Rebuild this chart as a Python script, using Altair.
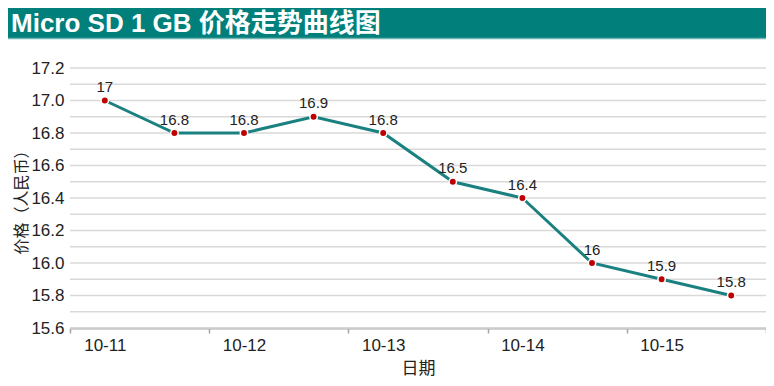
import altair as alt
import pandas as pd

title_text = "Micro SD 1 GB 价格走势曲线图"
dates = ["10-11", "10-12", "10-13", "10-14", "10-15"]
prices = [17.0, 16.8, 16.8, 16.9, 16.8, 16.5, 16.4, 16.0, 15.9, 15.8]
y_labels = [15.6, 15.8, 16.0, 16.2, 16.4, 16.6, 16.8, 17.0, 17.2]
y_grid = [15.6, 15.7, 15.8, 15.9, 16.0, 16.1, 16.2, 16.3, 16.4, 16.5,
          16.6, 16.7, 16.8, 16.9, 17.0, 17.1, 17.2]
x_ticks = [-0.5, 1.5, 3.5, 5.5, 7.5, 9.5]

W, H = 696, 260
PAD_L, PAD_T, PAD_B = 62, 60, 50
LATIN = "Liberation Sans, Arial, Noto Sans CJK SC"

df = pd.DataFrame({"idx": list(range(len(prices))), "price": prices})
grid_df = pd.DataFrame({"price": y_grid})
hdr = pd.DataFrame({"t": [title_text]})

date_arr = "[" + ",".join(f"'{d}'" for d in dates) + "]"
y_scale = alt.Scale(domain=[15.6, 17.2], nice=False, zero=False)
x_scale = alt.Scale(domain=[-0.5, len(prices) - 0.5], nice=False, zero=False)

x_axis = alt.Axis(
    values=x_ticks,
    labelExpr=f"{date_arr}[(datum.value + 0.5) / 2] || ''",
    labelOffset=W / len(prices) / 2,
    labelFlush=False,
    labelOverlap=False,
    grid=False,
    tickSize=5,
    tickColor="#a6a6a6",
    tickWidth=1.5,
    domainColor="#a6a6a6",
    domainWidth=2,
    labelPadding=4,
    labelFontSize=17,
    labelColor="#222222",
    labelFont=LATIN,
    title="日期",
    titleFontSize=17,
    titleFontWeight="normal",
    titleColor="#222222",
    titleFont="Noto Sans CJK SC",
    titlePadding=7,
)
y_axis = alt.Axis(
    values=y_labels,
    format=".1f",
    labelOverlap=False,
    labelFlush=False,
    grid=False,
    ticks=False,
    domain=False,
    labelPadding=6,
    labelFontSize=17,
    labelColor="#222222",
    labelFont=LATIN,
    title="价格（人民币）",
    titleFontSize=16,
    titleFontWeight="normal",
    titleColor="#222222",
    titleFont="Noto Sans CJK SC",
    titlePadding=1,
)

x_enc = alt.X("idx:Q", scale=x_scale, axis=x_axis)
y_enc = alt.Y("price:Q", scale=y_scale, axis=y_axis)

grid = alt.Chart(grid_df).mark_rule(color="#d9d9d9", strokeWidth=1.5).encode(
    y=y_enc, x=alt.value(0), x2=alt.value(W),
)
line = alt.Chart(df).mark_line(color="#1b8080", strokeWidth=3).encode(x=x_enc, y=y_enc)
pts = alt.Chart(df).mark_point(
    filled=True, shape="circle", size=55, color="#c00000",
    stroke="white", strokeWidth=1.5, opacity=1
).encode(x=x_enc, y=y_enc)
labels = alt.Chart(df).mark_text(
    baseline="alphabetic", dy=-8.5, fontSize=15, font=LATIN, color="#222222"
).encode(x=x_enc, y=y_enc, text=alt.Text("price:Q", format="~g"))

header = alt.Chart(hdr).mark_rect(color="#007f7b").encode(
    x=alt.value(-PAD_L), x2=alt.value(W), y=alt.value(-PAD_T), y2=alt.value(-30)
)
header_line = alt.Chart(hdr).mark_rule(color="#6fb5b2", strokeWidth=1.5).encode(
    x=alt.value(-PAD_L), x2=alt.value(W), y=alt.value(-29.5)
)
header_text = alt.Chart(hdr).mark_text(
    align="left", baseline="alphabetic", fontSize=26, fontWeight="bold",
    color="white", font=LATIN
).encode(x=alt.value(-PAD_L + 3), y=alt.value(-36), text="t:N")

chart = alt.layer(grid, line, pts, labels, header, header_line, header_text).properties(
    width=W, height=H,
    autosize=alt.AutoSizeParams(type="none"),
    padding={"left": PAD_L, "top": PAD_T, "right": 0, "bottom": PAD_B},
).configure_view(stroke=None)

chart.save("out.html", embed_options={"renderer": "svg", "actions": False})
